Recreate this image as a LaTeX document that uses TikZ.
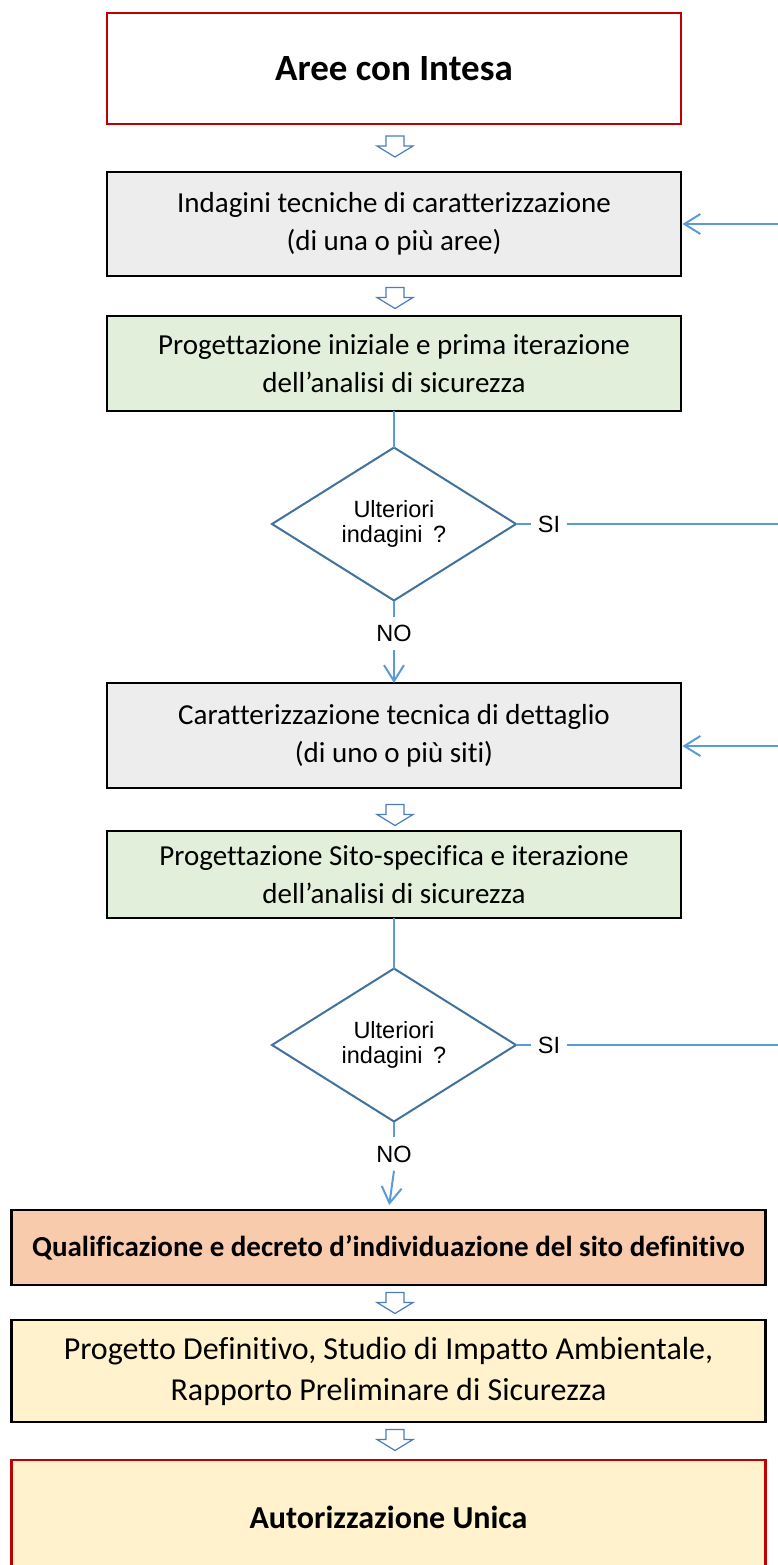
\documentclass[tikz,border=0pt]{standalone}
\usepackage{fontspec}
\setmainfont{Carlito}[Ligatures=NoCommon]
\newfontfamily\arialfont{Liberation Sans}
\usetikzlibrary{shapes.geometric,arrows.meta}

\definecolor{boxred}{HTML}{C00000}
\definecolor{greyfill}{HTML}{EDEDED}
\definecolor{greenfill}{HTML}{E2EFDA}
\definecolor{salmonfill}{HTML}{F8CBAD}
\definecolor{creamfill}{HTML}{FFF2CC}
\definecolor{diamondblue}{HTML}{41719C}
\definecolor{linkblue}{HTML}{5B9BD5}
\definecolor{arrowblue}{HTML}{4A7EBB}

\tikzset{
  stepbox/.style={rectangle, draw=black, line width=2.5pt, minimum width=574pt,
    align=center, inner sep=0pt, outer sep=0pt, font=\fontsize{29}{38}\selectfont},
  widebox/.style={stepbox, minimum width=754pt},
  redbox/.style={stepbox, draw=boxred},
  decision/.style={diamond, draw=diamondblue, line width=2pt, fill=white,
    minimum width=244pt, minimum height=153pt, inner sep=0pt, outer sep=0pt, aspect=1.6,
    align=center, font=\arialfont\fontsize{23.5}{25}\selectfont},
  answer/.style={font=\arialfont\fontsize{23.5}{25}\selectfont, text height=16.5pt,
    text depth=0pt, inner xsep=7pt, inner ysep=8.5pt, outer sep=0pt},
  conn/.style={draw=linkblue, line width=2pt},
  loopline/.style={draw=linkblue, line width=1.5pt},
  tip/.style={-{Straight Barb[length=16pt,width=20pt]}},
  downarrow/.pic={
    \draw[draw=arrowblue, fill=white, line width=1.2pt, line join=miter]
      (-9,-10.5) -- (-9,-0.5) -- (-18,-0.5) -- (0,10.5) -- (18,-0.5)
      -- (9,-0.5) -- (9,-10.5) -- cycle;}
}

\begin{document}
\begin{tikzpicture}[x=1pt, y=-1pt]
\useasboundingbox (0,0) rectangle (778,1565);
\clip (0,0) rectangle (778,1565);

% process steps
\node[redbox, fill=white, minimum height=111pt, font=\fontsize{37}{44}\selectfont\bfseries]
  (b1) at (394,68.5) {Aree con Intesa};
\node[stepbox, fill=greyfill, minimum height=104pt]
  (b2) at (394,224) {Indagini tecniche di caratterizzazione\\(di una o più aree)};
\node[stepbox, fill=greenfill, minimum height=95pt]
  (b3) at (394,363.5) {Progettazione iniziale e prima iterazione\\dell’analisi di sicurezza};
\node[decision] (d1) at (394,524) {Ulteriori\\indagini\hspace{0.45em}?};
\node[stepbox, fill=greyfill, minimum height=105pt]
  (b4) at (394,735.5) {Caratterizzazione tecnica di dettaglio\\(di uno o più siti)};
\node[stepbox, fill=greenfill, minimum height=87pt]
  (b5) at (394,874.5) {Progettazione Sito-specifica e iterazione\\dell’analisi di sicurezza};
\node[decision] (d2) at (394,1045) {Ulteriori\\indagini\hspace{0.45em}?};
\node[widebox, fill=salmonfill, minimum height=75pt, font=\fontsize{29}{38}\selectfont\bfseries]
  (b6) at (388.5,1247.5) {Qualificazione e decreto d’individuazione del sito definitivo};
\node[widebox, fill=creamfill, minimum height=102pt, font=\fontsize{32}{41}\selectfont]
  (b7) at (388.5,1371) {Progetto Definitivo, Studio di Impatto Ambientale,\\Rapporto Preliminare di Sicurezza};
\node[redbox, minimum width=754pt, fill=creamfill, minimum height=114pt,
  font=\fontsize{32}{40}\selectfont\bfseries]
  (b8) at (388.5,1517) {Autorizzazione Unica};

% hollow block arrows between steps
\pic at (395,146.5) {downarrow};
\pic at (395,298) {downarrow};
\pic at (395,815) {downarrow};
\pic at (395,1303) {downarrow};
\pic at (395,1440) {downarrow};

% decision outcomes
\node[answer] (no1) at (394,633.5) {NO};
\node[answer] (si1) at (549,524) {SI};
\node[answer] (no2) at (394,1154) {NO};
\node[answer] (si2) at (549,1045) {SI};

\coordinate (e1) at (780,524);
\coordinate (e2) at (780,1045);
\coordinate (r1) at (780,224);
\coordinate (r2) at (780,746);

\draw[conn] (b3.south) -- (d1.north);
\draw[conn] (d1.south) -- (no1.north);
\draw[conn, tip] (no1.south) -- (b4.north);
\draw[conn, line width=1.5pt] (d1.east) -- (si1.west);
\draw[loopline] (si1.east) -- (e1);

\draw[conn] (b5.south) -- (d2.north);
\draw[conn] (d2.south) -- (no2.north);
\draw[conn, tip, shorten >=5pt] (no2.south) -- (b6.north);
\draw[conn, line width=1.5pt] (d2.east) -- (si2.west);
\draw[loopline] (si2.east) -- (e2);

% returns into the investigation steps
\draw[conn, tip, shorten >=1.5pt] (r1) -- (r1 -| b2.east);
\draw[conn, tip, shorten >=1.5pt] (r2) -- (r2 -| b4.east);
\end{tikzpicture}
\end{document}
